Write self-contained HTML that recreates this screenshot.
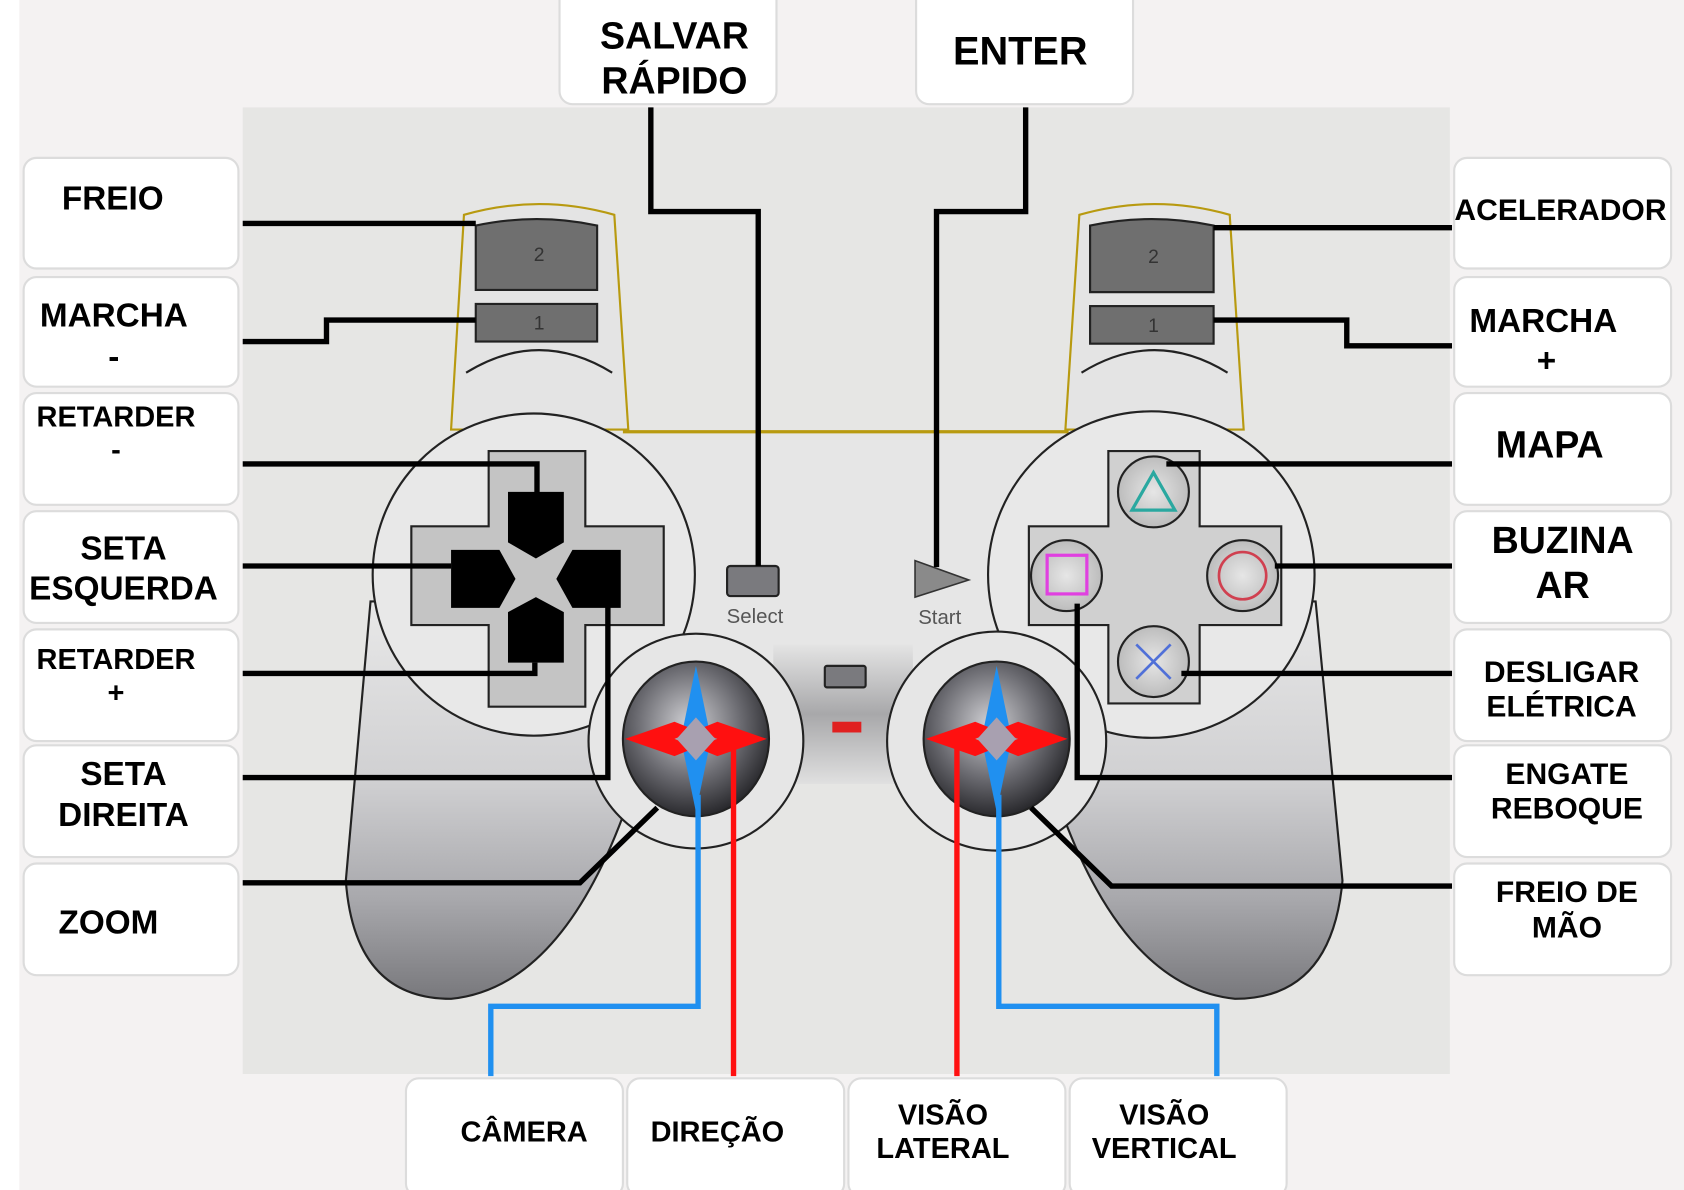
<!DOCTYPE html>
<html><head><meta charset="utf-8"><style>
html,body{margin:0;padding:0;width:1684px;height:1190px;overflow:hidden;background:#f4f2f2}
svg{display:block}
text{font-family:"Liberation Sans",sans-serif;font-weight:bold;fill:#000;text-anchor:middle}
</style></head><body>
<svg width="1684" height="1190" viewBox="0 0 1568 1108" preserveAspectRatio="none">
<defs>
<linearGradient id="grip" x1="0" y1="0" x2="0" y2="1"><stop offset="0" stop-color="#e8e8e8"/><stop offset="0.45" stop-color="#d0d0d2"/><stop offset="0.75" stop-color="#a8a8ac"/><stop offset="1" stop-color="#78787c"/></linearGradient>
<radialGradient id="stick" cx="0.45" cy="0.4" r="0.6"><stop offset="0" stop-color="#d0d0d4"/><stop offset="0.6" stop-color="#6a6a70"/><stop offset="1" stop-color="#2a2a2e"/></radialGradient>
<radialGradient id="btn" cx="0.5" cy="0.5" r="0.6"><stop offset="0" stop-color="#e6e6e6"/><stop offset="1" stop-color="#b4b4b4"/></radialGradient>
<linearGradient id="mid" x1="0" y1="0" x2="0" y2="1"><stop offset="0" stop-color="#e4e4e4"/><stop offset="0.5" stop-color="#a8a8aa"/><stop offset="1" stop-color="#e0e0e0"/></linearGradient>
</defs>
<rect x="0" y="0" width="18" height="1108" fill="#fff"/>
<rect x="226" y="100" width="1124" height="900" fill="#e6e6e4"/>

<!-- shoulders -->
<g stroke="#222" stroke-width="2" fill="#e4e4e4">
<path d="M432 200 Q502 180 572 200 L585 400 L420 400 Z" stroke="#b89a10"/>
<path d="M1005 200 Q1075 180 1145 200 L1158 400 L992 400 Z" stroke="#b89a10"/>
</g>
<g fill="none" stroke="#222" stroke-width="2">
<path d="M434 347 Q502 305 570 347"/>
<path d="M1007 347 Q1075 305 1143 347"/>
</g>
<g stroke="#222" stroke-width="2" fill="#6f6f6f">
<path d="M443 210 Q500 198 556 210 L556 270 L443 270 Z"/>
<rect x="443" y="283" width="113" height="35"/>
<path d="M1015 210 Q1072 198 1130 210 L1130 272 L1015 272 Z"/>
<rect x="1015" y="285" width="115" height="35"/>
</g>
<text x="502" y="243" font-size="18" style="font-weight:normal;fill:#333">2</text>
<text x="502" y="307" font-size="18" style="font-weight:normal;fill:#333">1</text>
<text x="1074" y="245" font-size="18" style="font-weight:normal;fill:#333">2</text>
<text x="1074" y="309" font-size="18" style="font-weight:normal;fill:#333">1</text>

<!-- grips -->
<path d="M345 560 L322 820 Q330 930 420 930 Q520 920 580 760 L580 560 Z" fill="url(#grip)" stroke="#222" stroke-width="2"/>
<path d="M1225 560 L1250 820 Q1240 930 1150 930 Q1050 920 990 760 L990 560 Z" fill="url(#grip)" stroke="#222" stroke-width="2"/>
<!-- body middle -->
<path d="M580 402 L995 402 L995 730 L580 730 Z" fill="#e6e6e6"/>
<line x1="580" y1="402" x2="995" y2="402" stroke="#b89a10" stroke-width="3"/>
<rect x="720" y="600" width="130" height="130" fill="url(#mid)"/>
<!-- grip circles -->
<circle cx="497" cy="535" r="150" fill="#e8e8e8" stroke="#222" stroke-width="2"/>
<circle cx="1072" cy="535" r="152" fill="#e8e8e8" stroke="#222" stroke-width="2"/>

<!-- dpad -->
<path d="M455 420 H545 V490 H618 V582 H545 V658 H455 V582 H383 V490 H455 Z" fill="#c4c4c4" stroke="#222" stroke-width="2"/>
<g fill="#000">
<path d="M473 458 H525 V505 L499 520 L473 505 Z"/>
<path d="M420 512 H465 L480 539 L465 566 H420 Z"/>
<path d="M578 512 H533 L518 539 L533 566 H578 Z"/>
<path d="M473 617 H525 V570 L499 556 L473 570 Z"/>
</g>
<!-- face buttons -->
<path d="M1032 420 H1117 V490 H1193 V582 H1117 V655 H1032 V582 H958 V490 H1032 Z" fill="#d0d0d0" stroke="#222" stroke-width="2"/>
<g fill="url(#btn)" stroke="#222" stroke-width="2">
<circle cx="1074" cy="458" r="33"/><circle cx="993" cy="536" r="33"/><circle cx="1157" cy="536" r="33"/><circle cx="1074" cy="616" r="33"/>
</g>
<path d="M1074 440 L1094 475 L1054 475 Z" fill="none" stroke="#2aa8a0" stroke-width="3"/>
<rect x="975" y="517" width="37" height="36" fill="none" stroke="#e040e0" stroke-width="3"/>
<circle cx="1157" cy="536" r="22" fill="none" stroke="#d04050" stroke-width="2.5"/>
<path d="M1058 600 L1090 632 M1090 600 L1058 632" stroke="#5070d8" stroke-width="2.5"/>

<!-- select start -->
<rect x="677" y="527" width="48" height="28" rx="3" fill="#7a7a7e" stroke="#222" stroke-width="2"/>
<text x="703" y="580" font-size="19" style="font-weight:normal;fill:#555">Select</text>
<path d="M852 522 L902 540 L852 556 Z" fill="#8a8a8a" stroke="#333" stroke-width="1.5"/>
<text x="875" y="581" font-size="19" style="font-weight:normal;fill:#555">Start</text>
<rect x="768" y="620" width="38" height="20" rx="2" fill="#7a7a7e" stroke="#222" stroke-width="2"/>
<rect x="775" y="672" width="27" height="10" fill="#e02020"/>

<!-- analog sticks -->
<circle cx="648" cy="690" r="100" fill="#e6e6e6" stroke="#222" stroke-width="2"/>
<circle cx="928" cy="690" r="102" fill="#e6e6e6" stroke="#222" stroke-width="2"/>
<ellipse cx="648" cy="688" rx="68" ry="72" fill="url(#stick)" stroke="#222" stroke-width="2"/>
<ellipse cx="928" cy="688" rx="68" ry="72" fill="url(#stick)" stroke="#222" stroke-width="2"/>
<g>
<path d="M648 620 L662 688 L648 756 L634 688 Z" fill="#2090f0"/>
<path d="M582 688 L628 672 L668 688 L628 704 Z M714 688 L668 672 L628 688 L668 704 Z" fill="#ff1010"/>
<path d="M928 620 L942 688 L928 756 L914 688 Z" fill="#2090f0"/>
<path d="M862 688 L908 672 L948 688 L908 704 Z M994 688 L948 672 L908 688 L948 704 Z" fill="#ff1010"/>
<path d="M648 668 L666 688 L648 708 L630 688 Z M928 668 L946 688 L928 708 L910 688 Z" fill="#a8a0b0"/>
</g>

<!-- connectors -->
<g fill="none" stroke="#000" stroke-width="5">
<path d="M226 208 H443"/>
<path d="M226 318 H304 V298 H443"/>
<path d="M226 432 H500 V460"/>
<path d="M226 527 H420"/>
<path d="M226 627 H498 V617"/>
<path d="M226 724 H566 V540"/>
<path d="M226 822 H540 L612 752"/>
<path d="M606 100 V197 H706 V527"/>
<path d="M955 100 V197 H872 V528"/>
<path d="M1130 212 H1352"/>
<path d="M1130 298 H1254 V322 H1352"/>
<path d="M1086 432 H1352"/>
<path d="M1187 527 H1352"/>
<path d="M1100 627 H1352"/>
<path d="M1003 562 V724 H1352"/>
<path d="M960 752 L1035 825 H1352"/>
</g>
<g fill="none" stroke-width="5">
<path d="M650 740 V937 H457 V1002" stroke="#2090f0"/>
<path d="M930 740 V937 H1133 V1002" stroke="#2090f0"/>
<path d="M683 690 V1002" stroke="#ff1010"/>
<path d="M891 690 V1002" stroke="#ff1010"/>
</g>

<!-- label boxes -->
<g fill="#fff" stroke="#dcdcdc" stroke-width="2">
<rect x="22" y="147" width="200" height="103" rx="12"/>
<rect x="22" y="258" width="200" height="102" rx="12"/>
<rect x="22" y="366" width="200" height="104" rx="12"/>
<rect x="22" y="476" width="200" height="104" rx="12"/>
<rect x="22" y="586" width="200" height="104" rx="12"/>
<rect x="22" y="694" width="200" height="104" rx="12"/>
<rect x="22" y="804" width="200" height="104" rx="12"/>
<rect x="1354" y="147" width="202" height="103" rx="12"/>
<rect x="1354" y="258" width="202" height="102" rx="12"/>
<rect x="1354" y="366" width="202" height="104" rx="12"/>
<rect x="1354" y="476" width="202" height="104" rx="12"/>
<rect x="1354" y="586" width="202" height="104" rx="12"/>
<rect x="1354" y="694" width="202" height="104" rx="12"/>
<rect x="1354" y="804" width="202" height="104" rx="12"/>
<rect x="521" y="-12" width="202" height="109" rx="12"/>
<rect x="853" y="-12" width="202" height="109" rx="12"/>
<rect x="378" y="1004" width="202" height="110" rx="12"/>
<rect x="584" y="1004" width="202" height="110" rx="12"/>
<rect x="790" y="1004" width="202" height="110" rx="12"/>
<rect x="996" y="1004" width="202" height="110" rx="12"/>
</g>

<g font-size="31">
<text x="105" y="195">FREIO</text>
<text x="106" y="304">MARCHA</text>
<text x="106" y="342">-</text>
<text x="108" y="397" font-size="27">RETARDER</text>
<text x="108" y="428" font-size="27">-</text>
<text x="115" y="521">SETA</text>
<text x="115" y="558">ESQUERDA</text>
<text x="108" y="623" font-size="27">RETARDER</text>
<text x="108" y="654" font-size="27">+</text>
<text x="115" y="731">SETA</text>
<text x="115" y="769">DIREITA</text>
<text x="101" y="869">ZOOM</text>
<text x="1453" y="205" font-size="28">ACELERADOR</text>
<text x="1437" y="309">MARCHA</text>
<text x="1440" y="346">+</text>
<text x="1443" y="426" font-size="35">MAPA</text>
<text x="1455" y="515" font-size="35">BUZINA</text>
<text x="1455" y="557" font-size="35">AR</text>
<text x="1454" y="635" font-size="28">DESLIGAR</text>
<text x="1454" y="667" font-size="28">ELÉTRICA</text>
<text x="1459" y="730" font-size="28">ENGATE</text>
<text x="1459" y="762" font-size="28">REBOQUE</text>
<text x="1459" y="840" font-size="28">FREIO DE</text>
<text x="1459" y="873" font-size="28">MÃO</text>
<text x="628" y="45" font-size="35">SALVAR</text>
<text x="628" y="87" font-size="35">RÁPIDO</text>
<text x="950" y="60" font-size="37">ENTER</text>
<text x="488" y="1063" font-size="27">CÂMERA</text>
<text x="668" y="1063" font-size="27">DIREÇÃO</text>
<text x="878" y="1047" font-size="27">VISÃO</text>
<text x="878" y="1078" font-size="27">LATERAL</text>
<text x="1084" y="1047" font-size="27">VISÃO</text>
<text x="1084" y="1078" font-size="27">VERTICAL</text>
</g>
</svg>
</body></html>
